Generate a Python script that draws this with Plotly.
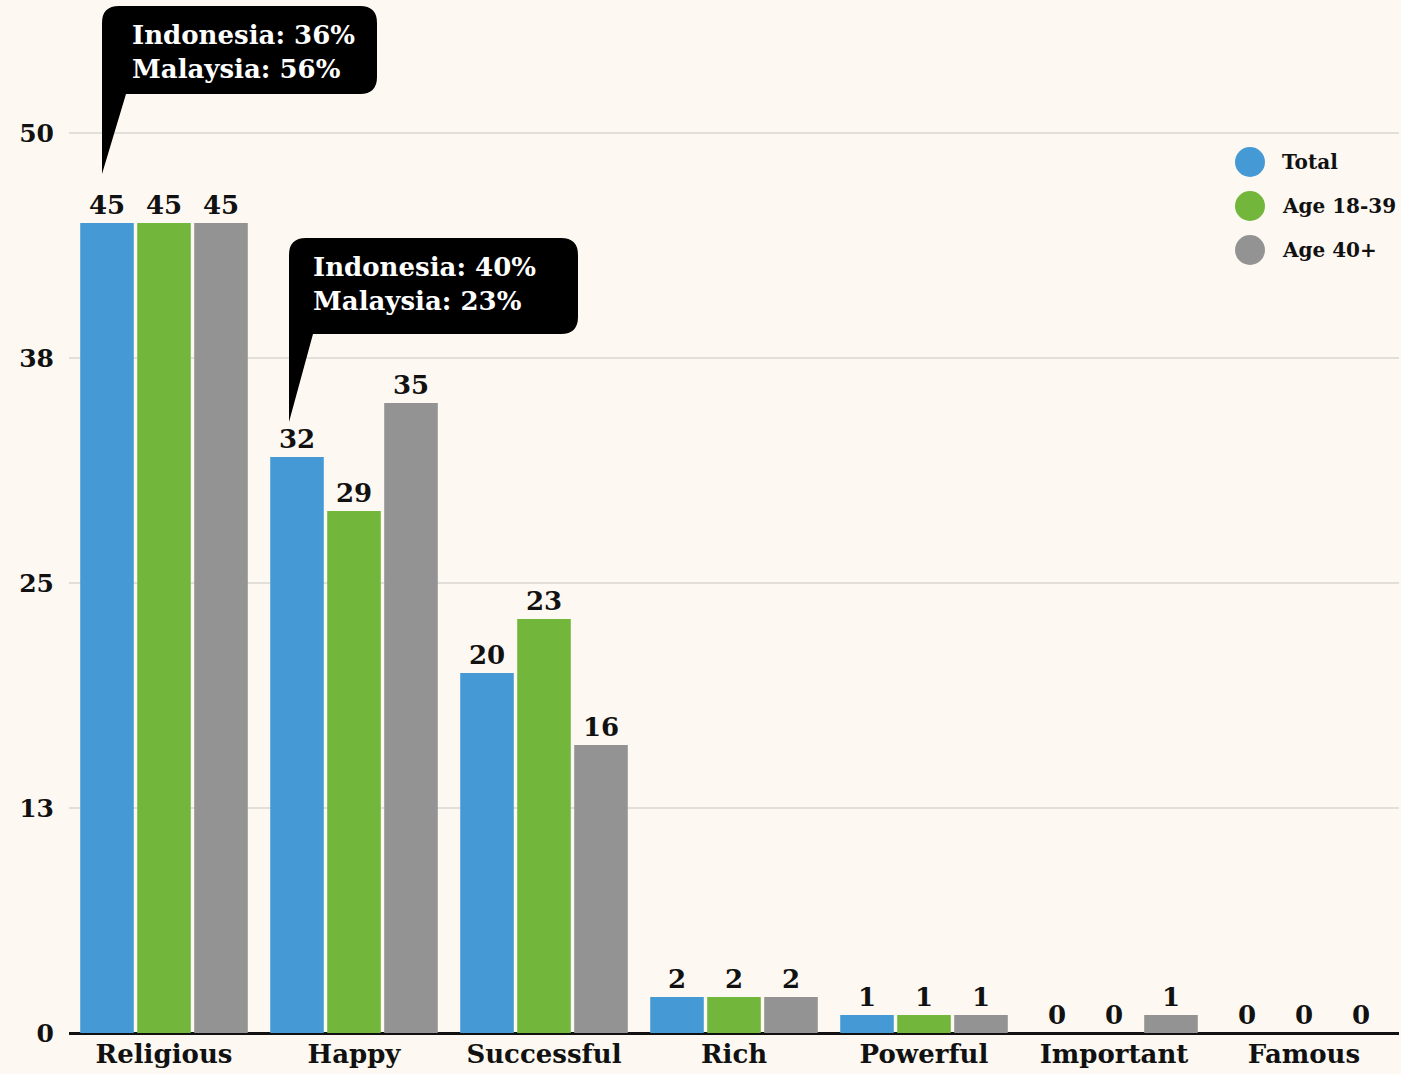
import plotly.graph_objects as go

# ---- data ----
categories = ["Religious", "Happy", "Successful", "Rich", "Powerful", "Important", "Famous"]
total = [45, 32, 20, 2, 1, 0, 0]
age_18_39 = [45, 29, 23, 2, 1, 0, 0]
age_40_plus = [45, 35, 16, 2, 1, 1, 0]

series_names = ["Total", "Age 18-39", "Age 40+"]
series_values = [total, age_18_39, age_40_plus]
series_colors = ["#4599D4", "#72B73B", "#939393"]

y_tick_vals = [0, 12.5, 25, 37.5, 50]
y_tick_text = ["0", "13", "25", "38", "50"]

# callouts: category, text, tip offset (px from category centre / bar top), box size
callouts = [
    dict(cat="Religious", value=45, text="Indonesia: 36%<br>Malaysia: 56%",
         tip=(-62, 49), rise=80, w=275, h=88, pad=28),
    dict(cat="Happy", value=32, text="Indonesia: 40%<br>Malaysia: 23%",
         tip=(-65, 35), rise=88, w=289, h=96, pad=22),
]

# ---- layout constants ----
W, H = 1401, 1074
M_L, M_R, M_T, M_B = 69, 2, 0, 41
PLOT_W = W - M_L - M_R
PLOT_H = H - M_T - M_B
Y_TOP = 50 * PLOT_H / 900  # 50 sits 900px above the baseline

BG = "#FDF9F2"
FONT = "DejaVu Serif"
INK = "#111111"


def px_to_paper_x(px):
    return (px - M_L) / PLOT_W


def px_to_paper_y(py):
    return (M_T + PLOT_H - py) / PLOT_H


fig = go.Figure()

for name, vals, col in zip(series_names, series_values, series_colors):
    fig.add_trace(go.Bar(
        name=name, x=categories, y=vals,
        marker=dict(color=col, line=dict(width=0)),
        text=[str(v) for v in vals], textposition="outside",
        textfont=dict(family=FONT, size=26, color=INK, weight="bold"),
        constraintext="none", cliponaxis=False, showlegend=False,
        hoverinfo="skip",
    ))

shapes = []
annotations = []

# speech-bubble callouts, drawn in pixels relative to each category/bar top
for c in callouts:
    tx, ty = c["tip"]
    L = tx
    B = ty + c["rise"]
    R = L + c["w"]
    T = B + c["h"]
    r = 17
    tb = 24
    path = (
        f"M {tx},{ty} L {L},{T - r} Q {L},{T} {L + r},{T} "
        f"L {R - r},{T} Q {R},{T} {R},{T - r} "
        f"L {R},{B + r} Q {R},{B} {R - r},{B} "
        f"L {L + tb},{B} Z"
    )
    shapes.append(dict(
        type="path", xref="x", yref="y",
        xsizemode="pixel", ysizemode="pixel",
        xanchor=c["cat"], yanchor=c["value"],
        path=path, fillcolor="#000000", line=dict(width=0), layer="above",
    ))
    annotations.append(dict(
        x=c["cat"], y=c["value"], xref="x", yref="y",
        xshift=L + c["pad"], yshift=T - 12,
        xanchor="left", yanchor="top", align="left", showarrow=False,
        text=c["text"],
        font=dict(family=FONT, size=26, color="#FFFFFF", weight="bold"),
    ))

# legend with large round swatches
legend_x = 1250
legend_ys = [162, 206, 250]
for name, col, ly in zip(series_names, series_colors, legend_ys):
    shapes.append(dict(
        type="circle", xref="paper", yref="paper",
        xsizemode="pixel", ysizemode="pixel",
        xanchor=px_to_paper_x(legend_x), yanchor=px_to_paper_y(ly),
        x0=-15, x1=15, y0=-15, y1=15,
        fillcolor=col, line=dict(width=0),
    ))
    annotations.append(dict(
        x=px_to_paper_x(1280), y=px_to_paper_y(ly), xref="paper", yref="paper",
        xanchor="left", yanchor="middle", showarrow=False, text=name,
        font=dict(family=FONT, size=20, color=INK, weight="bold"),
    ))

fig.update_layout(
    width=W, height=H,
    margin=dict(l=M_L, r=M_R, t=M_T, b=M_B, pad=0),
    paper_bgcolor=BG, plot_bgcolor=BG,
    barmode="group", bargap=0.1, bargroupgap=0.06,
    showlegend=False,
    shapes=shapes, annotations=annotations,
    font=dict(family=FONT, color=INK, weight="bold"),
)
fig.update_xaxes(
    type="category", showgrid=False, ticks="", showline=False,
    tickfont=dict(family=FONT, size=26, color=INK, weight="bold"),
    ticklabelstandoff=3, automargin=False,
)
fig.update_yaxes(
    range=[0, Y_TOP], tickvals=y_tick_vals, ticktext=y_tick_text,
    showgrid=True, gridcolor="#E2DFDA", gridwidth=1.5,
    zeroline=True, zerolinecolor="#111111", zerolinewidth=2.5,
    ticks="", ticklabelstandoff=14, showline=False,
    tickfont=dict(family=FONT, size=25, color=INK, weight="bold"),
    automargin=False,
)

fig.write_html("out.html")
